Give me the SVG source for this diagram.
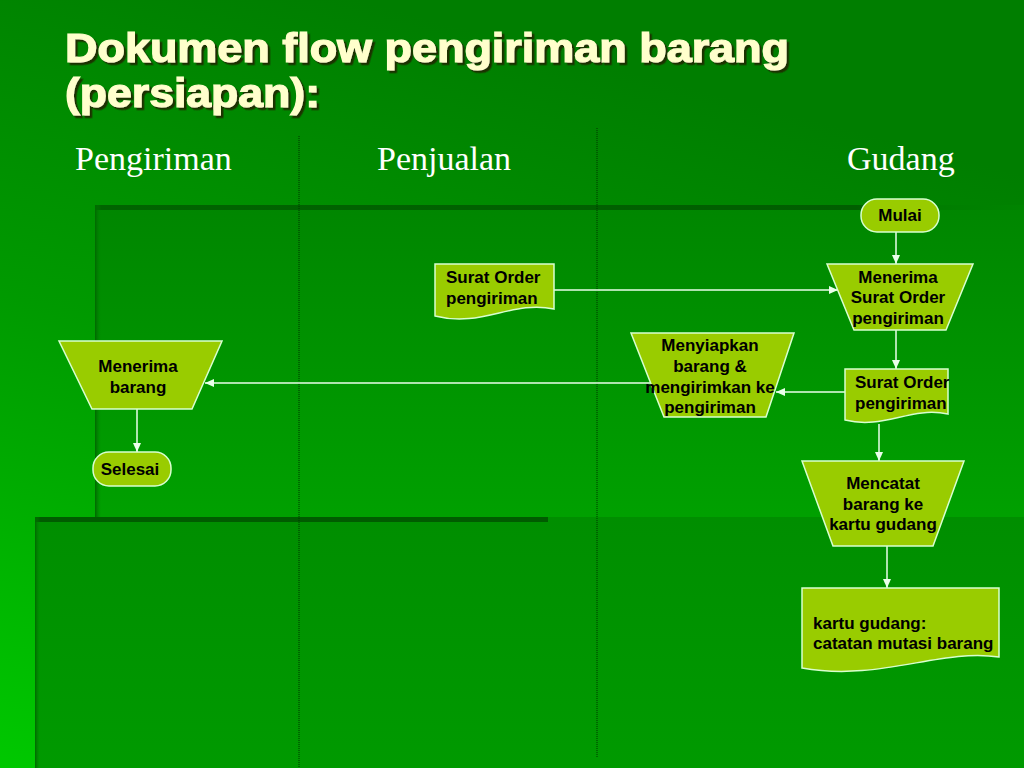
<svg xmlns="http://www.w3.org/2000/svg" width="1024" height="768" viewBox="0 0 1024 768">
  <defs>
    <linearGradient id="bg" x1="0.35" y1="0" x2="0" y2="1">
      <stop offset="0" stop-color="#007e00"/>
      <stop offset="0.45" stop-color="#009a00"/>
      <stop offset="1" stop-color="#00c800"/>
    </linearGradient>
    <linearGradient id="panelA" x1="0" y1="0" x2="0" y2="1">
      <stop offset="0" stop-color="#008600"/>
      <stop offset="0.55" stop-color="#00a000"/>
      <stop offset="1" stop-color="#00a800"/>
    </linearGradient>
    <linearGradient id="panelB" x1="0" y1="0" x2="0" y2="1">
      <stop offset="0" stop-color="#008e00"/>
      <stop offset="1" stop-color="#009a00"/>
    </linearGradient>
    <linearGradient id="topbar" x1="0" y1="0" x2="1" y2="0">
      <stop offset="0" stop-color="#006400"/>
      <stop offset="0.82" stop-color="#005e00"/>
      <stop offset="0.86" stop-color="#007a00"/>
      <stop offset="1" stop-color="#008400"/>
    </linearGradient>
    <linearGradient id="sideA" x1="0" y1="0" x2="1" y2="0">
      <stop offset="0" stop-color="#006800"/>
      <stop offset="1" stop-color="#008400" stop-opacity="0"/>
    </linearGradient>
    <filter id="shadow" x="-5%" y="-20%" width="110%" height="140%">
      <feDropShadow dx="2.5" dy="2.5" stdDeviation="0.6" flood-color="#1a3000" flood-opacity="1"/>
    </filter>
    <marker id="arr" markerWidth="10" markerHeight="10" refX="9" refY="5" orient="auto" markerUnits="userSpaceOnUse">
      <path d="M0,1 L9,5 L0,9 Z" fill="#eaffea"/>
    </marker>
    <style>
      .node { fill: #99cc00; stroke: #d8ffd0; stroke-width: 1.5; }
      .lbl { font-family: "Liberation Sans", Arial, sans-serif; font-weight: bold; font-size: 17px; fill: #000; }
      .mid { text-anchor: middle; }
      .lane { font-family: "Liberation Serif", "Times New Roman", serif; font-size: 34px; fill: #ffffff; }
      .title { font-family: "Liberation Sans", Arial, sans-serif; font-weight: bold; font-size: 40px; fill: #ffffcc; stroke: #ffffcc; stroke-width: 1.2; }
      .conn { fill: none; stroke: #eaffea; stroke-width: 1.5; marker-end: url(#arr); }
      .divider { stroke: #003400; stroke-width: 1; stroke-dasharray: 1 1; }
    </style>
  </defs>

  <!-- background -->
  <rect x="0" y="0" width="1024" height="768" fill="url(#bg)"/>
  <rect x="95" y="205" width="929" height="563" fill="url(#panelA)"/>
  <rect x="95" y="205" width="929" height="5" fill="url(#topbar)"/>
  <rect x="95" y="205" width="6" height="312" fill="url(#sideA)"/>
  <rect x="35" y="517" width="989" height="251" fill="url(#panelB)"/>
  <rect x="35" y="517" width="513" height="5" fill="#005c00"/>
  <rect x="35" y="517" width="5" height="251" fill="url(#sideA)"/>

  <!-- lane dividers -->
  <line class="divider" x1="299" y1="136" x2="299" y2="768"/>
  <line class="divider" x1="597" y1="128" x2="597" y2="758"/>

  <!-- title -->
  <g id="title" filter="url(#shadow)">
    <text class="title" x="65" y="62" textLength="724" lengthAdjust="spacingAndGlyphs">Dokumen flow pengiriman barang</text>
    <text class="title" x="65" y="107" textLength="255" lengthAdjust="spacingAndGlyphs">(persiapan):</text>
  </g>

  <!-- lane headers -->
  <g id="lanes">
    <text class="lane" x="75" y="170">Pengiriman</text>
    <text class="lane" x="377" y="170">Penjualan</text>
    <text class="lane" x="847" y="170">Gudang</text>
  </g>

  <!-- connectors -->
  <g id="connectors">
    <line class="conn" x1="896" y1="232" x2="896" y2="264"/>
    <line class="conn" x1="554" y1="290" x2="838" y2="290"/>
    <line class="conn" x1="896" y1="330" x2="896" y2="369"/>
    <line class="conn" x1="845" y1="392" x2="776" y2="392"/>
    <line class="conn" x1="650" y1="383" x2="205" y2="383"/>
    <line class="conn" x1="879" y1="424" x2="879" y2="461"/>
    <line class="conn" x1="887" y1="546" x2="887" y2="588"/>
    <line class="conn" x1="137" y1="409" x2="137" y2="452"/>
  </g>

  <!-- nodes -->
  <g id="mulai">
    <rect class="node" x="861" y="199" width="78" height="33" rx="16" ry="16"/>
    <text class="lbl mid" x="900" y="221">Mulai</text>
  </g>

  <g id="menerima-so">
    <path class="node" d="M827,264 L973,264 L946,330 L854,330 Z"/>
    <text class="lbl mid" x="898" y="283">Menerima</text>
    <text class="lbl mid" x="898" y="303">Surat Order</text>
    <text class="lbl mid" x="898" y="324">pengiriman</text>
  </g>

  <g id="so-penjualan">
    <path class="node" d="M435,264 H554 V309 C512,300 482,328 435,316 Z"/>
    <text class="lbl" x="446" y="283">Surat Order</text>
    <text class="lbl" x="446" y="304">pengiriman</text>
  </g>

  <g id="menyiapkan">
    <path class="node" d="M631,333 L794,333 L766,417 L664,417 Z"/>
    <text class="lbl mid" x="710" y="351">Menyiapkan</text>
    <text class="lbl mid" x="710" y="372">barang &amp;</text>
    <text class="lbl mid" x="710" y="393">mengirimkan ke</text>
    <text class="lbl mid" x="710" y="413">pengiriman</text>
  </g>

  <g id="so-gudang">
    <path class="node" d="M845,369 H948 V414 C910,406 884,430 845,420 Z"/>
    <text class="lbl" x="855" y="388">Surat Order</text>
    <text class="lbl" x="855" y="409">pengiriman</text>
  </g>

  <g id="mencatat">
    <path class="node" d="M802,461 L964,461 L933,546 L833,546 Z"/>
    <text class="lbl mid" x="883" y="489">Mencatat</text>
    <text class="lbl mid" x="883" y="510">barang ke</text>
    <text class="lbl mid" x="883" y="530">kartu gudang</text>
  </g>

  <g id="kartu-gudang">
    <path class="node" d="M802,588 H999 V657 C940,648 880,682 802,668 Z"/>
    <text class="lbl" x="813" y="629">kartu gudang:</text>
    <text class="lbl" x="813" y="649">catatan mutasi barang</text>
  </g>

  <g id="menerima-barang">
    <path class="node" d="M59,341 L222,341 L192,409 L92,409 Z"/>
    <text class="lbl mid" x="138" y="372">Menerima</text>
    <text class="lbl mid" x="138" y="393">barang</text>
  </g>

  <g id="selesai">
    <rect class="node" x="93" y="452" width="78" height="34" rx="16" ry="16"/>
    <text class="lbl mid" x="130" y="475">Selesai</text>
  </g>
</svg>
